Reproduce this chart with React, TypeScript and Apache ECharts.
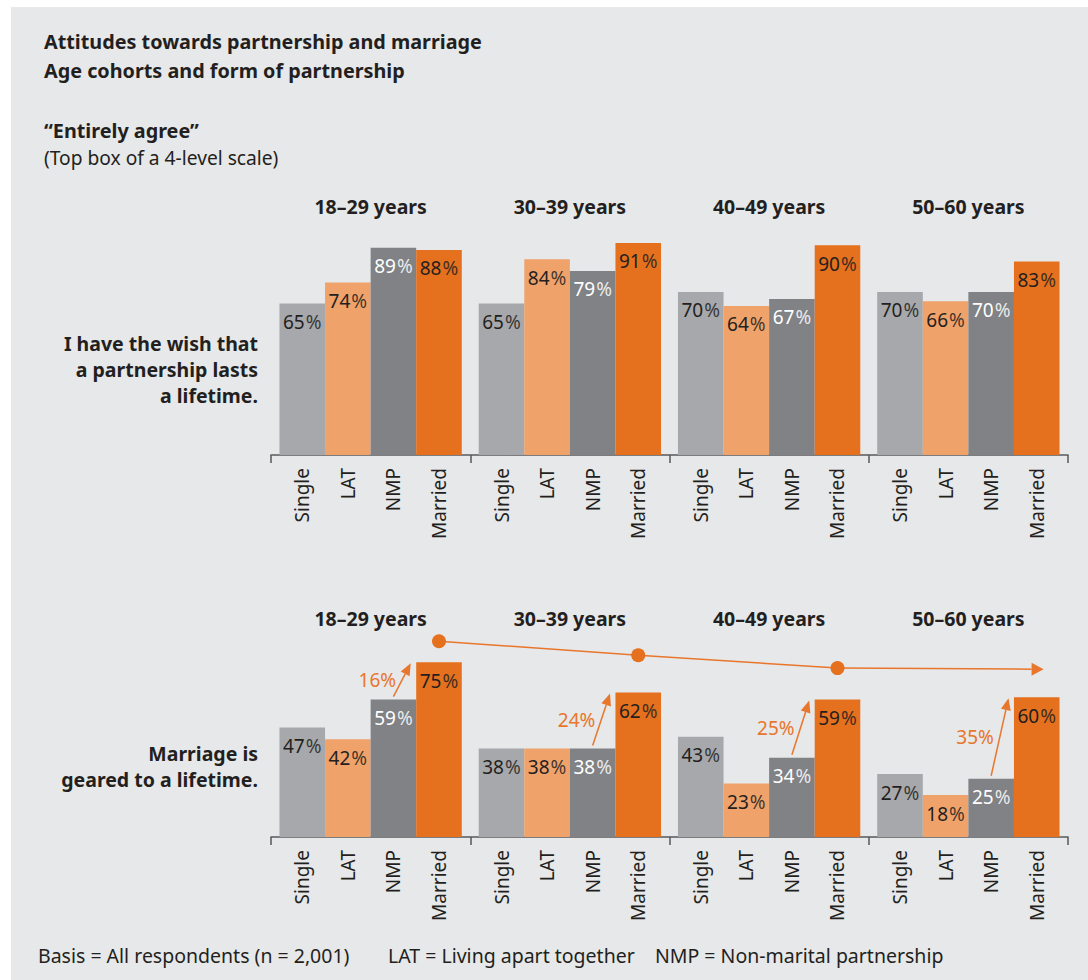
import React, { useEffect, useRef } from "react";
import * as echarts from "echarts";

// ---------- data ----------
const ageGroups = ["18–29 years", "30–39 years", "40–49 years", "50–60 years"];
const forms = ["Single", "LAT", "NMP", "Married"];

// "I have the wish that a partnership lasts a lifetime."
const wishSingle = [65, 65, 70, 70];
const wishLAT = [74, 84, 64, 66];
const wishNMP = [89, 79, 67, 70];
const wishMarried = [88, 91, 90, 83];

// "Marriage is geared to a lifetime."
const marSingle = [47, 38, 43, 27];
const marLAT = [42, 38, 23, 18];
const marNMP = [59, 38, 34, 25];
const marMarried = [75, 62, 59, 60];

// decorative trend line above the Married bars (bottom panel)
const trendLevels = [84, 78, 72.5, 72];

const titleLines = [
  "Attitudes towards partnership and marriage",
  "Age cohorts and form of partnership",
  "“Entirely agree”",
  "(Top box of a 4-level scale)",
];
const rowLabels = [
  "I have the wish that\na partnership lasts\na lifetime.",
  "Marriage is\ngeared to a lifetime.",
];
const footerTexts = [
  "Basis = All respondents (n = 2,001)",
  "LAT = Living apart together",
  "NMP = Non-marital partnership",
];

// ---------- style ----------
const FONT = '"Noto Sans", "Open Sans", sans-serif';
const TEXT = "#231f20";
const BG = "#e7e8e9";
const ORANGE = "#e5701d";
const ARROW = "#e8762c";
const colors = ["#a7a8ab", "#f0a26b", "#808285", "#e5701d"];
const labelColors = [TEXT, TEXT, "#ffffff", TEXT];
const BAR_GAP = 0.085;

function valueSeries(name: string, data: number[], k: number, xIdx: number, yIdx: number) {
  return {
    type: "bar",
    name,
    data,
    xAxisIndex: xIdx,
    yAxisIndex: yIdx,
    barGap: "0%",
    barCategoryGap: BAR_GAP * 100 + "%",
    itemStyle: { color: colors[k] },
    z: 2,
    label: {
      show: true,
      position: "insideTop",
      distance: 9,
      formatter: (p: any) => `{v|${p.value}}{p|%}`,
      rich: {
        v: { fontSize: 19, color: labelColors[k], fontFamily: FONT },
        p: { fontSize: 19, color: labelColors[k], fontFamily: FONT, opacity: 0.85, padding: [0, 0, 0, 1] },
      },
    },
  };
}

function nameSeries(name: string, data: number[], xIdx: number, yIdx: number) {
  return {
    type: "bar",
    name: name + " label",
    data,
    xAxisIndex: xIdx,
    yAxisIndex: yIdx,
    barGap: "0%",
    barCategoryGap: BAR_GAP * 100 + "%",
    itemStyle: { color: "rgba(0,0,0,0)" },
    silent: true,
    z: 1,
    label: {
      show: true,
      position: "bottom",
      distance: 13,
      rotate: 90,
      align: "right",
      verticalAlign: "middle",
      formatter: () => name,
      fontSize: 19,
      color: TEXT,
      fontFamily: FONT,
    },
  };
}

function barGeom(api: any) {
  const band = api.size([1, 0])[0];
  const usable = band * (1 - BAR_GAP);
  const barW = usable / 4;
  return { usable, barW };
}

function arrowHead(x1: number, y1: number, x2: number, y2: number, L: number, W: number) {
  const dx = x2 - x1;
  const dy = y2 - y1;
  const len = Math.hypot(dx, dy) || 1;
  const ux = dx / len;
  const uy = dy / len;
  const bx = x2 - ux * L;
  const by = y2 - uy * L;
  const px = -uy;
  const py = ux;
  return {
    base: [bx, by],
    points: [
      [x2, y2],
      [bx + px * W, by + py * W],
      [bx - px * W, by - py * W],
    ],
  };
}

export default function App() {
  const ref = useRef<HTMLDivElement>(null);

  useEffect(() => {
    if (!ref.current) return;
    const chart = echarts.init(ref.current, undefined, { renderer: "svg" });

    const catAxisBottom = (gridIndex: number) => ({
      gridIndex,
      type: "category",
      data: ageGroups,
      position: "bottom",
      axisLine: { show: true, lineStyle: { color: "#58595b", width: 1.5 } },
      axisTick: { show: true, length: 8, lineStyle: { color: "#58595b", width: 1.5 } },
      axisLabel: { show: false },
      splitLine: { show: false },
    });
    const catAxisTop = (gridIndex: number, offset: number) => ({
      gridIndex,
      type: "category",
      data: ageGroups,
      position: "top",
      offset,
      axisLine: { show: false },
      axisTick: { show: false },
      splitLine: { show: false },
      axisLabel: {
        show: true,
        interval: 0,
        margin: 6,
        fontSize: 19.5,
        fontWeight: "bold",
        color: TEXT,
        fontFamily: FONT,
      },
    });

    const wish = [wishSingle, wishLAT, wishNMP, wishMarried];
    const mar = [marSingle, marLAT, marNMP, marMarried];

    const series: any[] = [];
    forms.forEach((f, k) => series.push(valueSeries(f, wish[k], k, 0, 0)));
    forms.forEach((f, k) => series.push(nameSeries(f, wish[k], 1, 0)));
    forms.forEach((f, k) => series.push(valueSeries(f, mar[k], k, 2, 1)));
    forms.forEach((f, k) => series.push(nameSeries(f, mar[k], 3, 1)));

    // NMP -> Married difference arrows
    series.push({
      type: "custom",
      name: "difference",
      xAxisIndex: 2,
      yAxisIndex: 1,
      z: 5,
      silent: true,
      data: ageGroups.map((_, i) => [i, marNMP[i], marMarried[i]]),
      renderItem: (params: any, api: any) => {
        const g = api.value(0);
        const nmp = api.value(1);
        const married = api.value(2);
        const { barW } = barGeom(api);
        const a = api.coord([g, nmp]);
        const b = api.coord([g, married]);
        const x1 = a[0] + 0.5 * barW;
        const y1 = a[1] - 3;
        const x2 = a[0] + 0.88 * barW;
        const y2 = b[1] + 1;
        const head = arrowHead(x1, y1, x2, y2, 12, 5);
        return {
          type: "group",
          children: [
            {
              type: "line",
              shape: { x1, y1, x2: head.base[0], y2: head.base[1] },
              style: { stroke: ARROW, lineWidth: 1.5 },
            },
            { type: "polygon", shape: { points: head.points }, style: { fill: ARROW } },
            {
              type: "text",
              x: (x1 + x2) / 2 - 6,
              y: (y1 + y2) / 2,
              style: {
                text: `${married - nmp}%`,
                fill: ARROW,
                fontSize: 19,
                fontFamily: FONT,
                align: "right",
                verticalAlign: "middle",
                textAlign: "right",
                textVerticalAlign: "middle",
              },
            },
          ],
        };
      },
    });

    // trend line with circles and final arrow
    series.push({
      type: "custom",
      name: "trend",
      xAxisIndex: 2,
      yAxisIndex: 1,
      z: 6,
      silent: true,
      data: trendLevels.map((v, i) => [i, v]),
      renderItem: (params: any, api: any) => {
        const i = params.dataIndex;
        const n = trendLevels.length;
        const { usable, barW } = barGeom(api);
        const off = -usable / 2 + 3.5 * barW;
        const pt = (j: number) => {
          const p = api.coord([j, trendLevels[j]]);
          return [p[0] + off + (j === n - 1 ? 0.15 * barW : 0), p[1]];
        };
        if (i === n - 1) return { type: "group", children: [] };
        const p = pt(i);
        const q = pt(i + 1);
        const children: any[] = [];
        if (i + 1 === n - 1) {
          const head = arrowHead(p[0], p[1], q[0], q[1], 12, 6.5);
          children.push({
            type: "line",
            shape: { x1: p[0], y1: p[1], x2: head.base[0], y2: head.base[1] },
            style: { stroke: ARROW, lineWidth: 1.5 },
          });
          children.push({ type: "polygon", shape: { points: head.points }, style: { fill: ARROW } });
        } else {
          children.push({
            type: "line",
            shape: { x1: p[0], y1: p[1], x2: q[0], y2: q[1] },
            style: { stroke: ARROW, lineWidth: 1.5 },
          });
        }
        children.push({ type: "circle", shape: { cx: p[0], cy: p[1], r: 7 }, style: { fill: ORANGE } });
        return { type: "group", children };
      },
    });

    const txt = (text: string, x: number, y: number, opts: any = {}) => ({
      type: "text",
      x,
      y,
      silent: true,
      style: {
        text,
        fill: TEXT,
        fontSize: 18,
        fontFamily: FONT,
        verticalAlign: "middle",
        textVerticalAlign: "middle",
        ...opts,
      },
    });

    chart.setOption({
      animation: false,
      backgroundColor: BG,
      grid: [
        { left: 260, width: 797, top: 215, height: 233, containLabel: false },
        { left: 260, width: 797, top: 597, height: 233, containLabel: false },
      ],
      xAxis: [catAxisBottom(0), catAxisTop(0, 0), catAxisBottom(1), catAxisTop(1, -30.5)],
      yAxis: [
        { gridIndex: 0, type: "value", min: 0, max: 100, show: false },
        { gridIndex: 1, type: "value", min: 0, max: 100, show: false },
      ],
      series,
      graphic: [
        txt(titleLines[0], 33, 34, { fontWeight: "bold", fontSize: 19.8 }),
        txt(titleLines[1], 33, 63, { fontWeight: "bold", fontSize: 19.8 }),
        txt(titleLines[2], 33, 123, { fontWeight: "bold", fontSize: 19.8 }),
        txt(titleLines[3], 33, 150, { fontSize: 19.2 }),
        txt(rowLabels[0], 247, 362, {
          fontWeight: "bold",
          fontSize: 19.5,
          lineHeight: 26,
          align: "right",
          textAlign: "right",
        }),
        txt(rowLabels[1], 247, 759.5, {
          fontWeight: "bold",
          fontSize: 19.5,
          lineHeight: 26,
          align: "right",
          textAlign: "right",
        }),
        txt(footerTexts[0], 27, 948, { fontSize: 19.5 }),
        txt(footerTexts[1], 377, 948, { fontSize: 19.5 }),
        txt(footerTexts[2], 644, 948, { fontSize: 19.5 }),
      ],
    });

    return () => chart.dispose();
  }, []);

  return (
    <div style={{ position: "fixed", left: 0, top: 0, width: 1088, height: 980, background: "#ffffff" }}>
      <div ref={ref} style={{ position: "absolute", left: 11, top: 7, width: 1077, height: 973 }} />
    </div>
  );
}
